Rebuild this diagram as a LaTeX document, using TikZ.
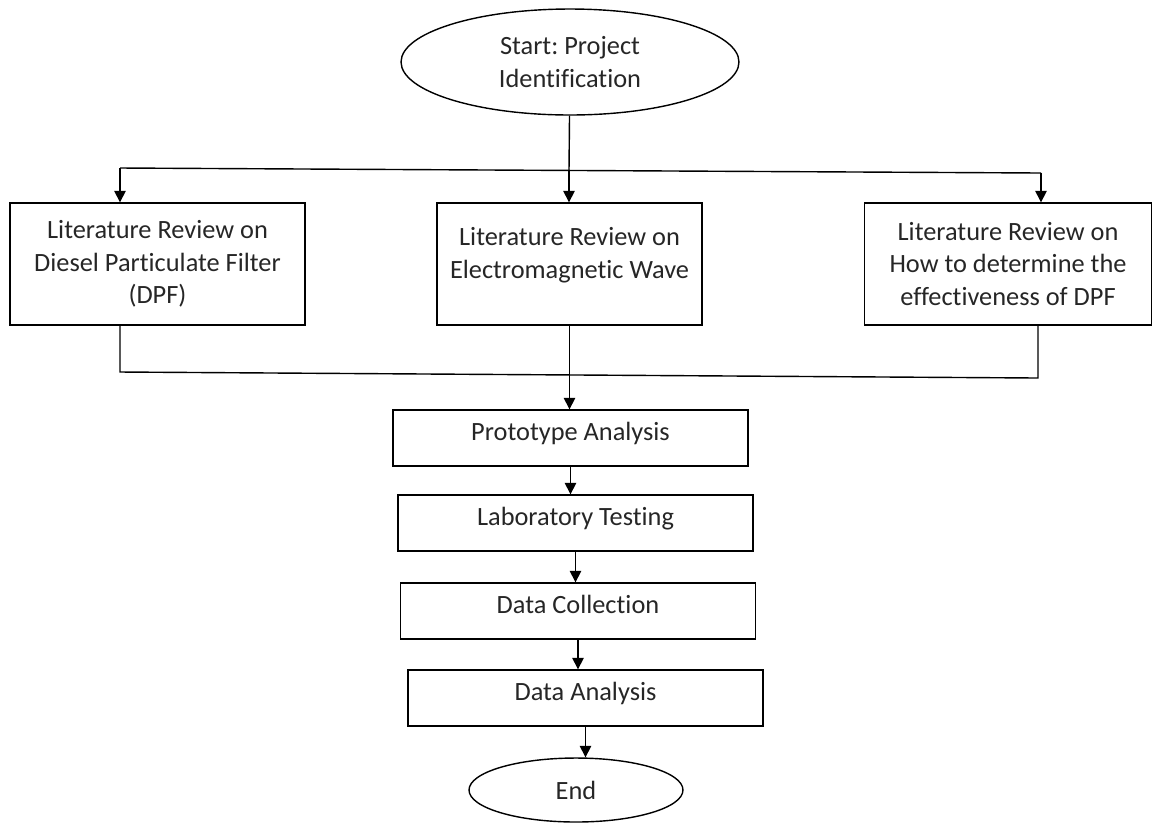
\documentclass[tikz,border=0pt]{standalone}
\usepackage{fontspec}
\setmainfont{Carlito}[Ligatures=NoCommon]
\usepackage{tikz}
\usetikzlibrary{arrows.meta,shapes.geometric}
\frenchspacing

\begin{document}
\begin{tikzpicture}[
    x=0.02cm, y=-0.02cm, font=\fontsize{15}{18.5}\selectfont, text=black!85,
    >={Triangle[length=2.3mm, width=2.3mm]}, line width=0.8pt,
    term/.style={draw, ellipse, align=center, inner sep=0pt},
    lit/.style={draw, rectangle, align=center, inner sep=2pt, minimum height=2.44cm},
    stage/.style={draw, rectangle, align=center, inner sep=2pt, text depth=0.25cm, minimum width=7.1cm, minimum height=1.12cm}]
    \useasboundingbox (0,0) rectangle (1155,823);
    \node[term, minimum width=6.76cm, minimum height=2.12cm] (start) at (570,62) {Start: Project\\Identification};
    \node[lit, minimum width=5.9cm]  (lit1) at (157.5,264) {Literature Review on\\Diesel Particulate Filter\\(DPF)};
    \node[lit, minimum width=5.3cm, text depth=0.45cm] (lit2) at (569.5,264) {Literature Review on\\Electromagnetic Wave};
    \node[lit, minimum width=5.74cm] (lit3) at (1008,264) {Literature Review on\\How to determine the\\effectiveness of DPF};
    \node[stage] (proto)    at (570.5,438) {Prototype Analysis};
    \node[stage] (lab)      at (575.5,523) {Laboratory Testing};
    \node[stage] (collect)  at (578,611)   {Data Collection};
    \node[stage] (analysis) at (585.5,698) {Data Analysis};
    \node[term, minimum width=4.28cm, minimum height=1.28cm] (end) at (576,790) {End};
    % split line under the start node
    \coordinate (tl) at (120,168);
    \coordinate (tj) at (569,170.5);
    \coordinate (tr) at (1041,173);
    \draw (start) -- (tj);
    \draw (tl) -- (tr);
    \draw[->] (tl) -- (tl |- lit1.north);
    \draw[->] (tj) -- (tj |- lit2.north);
    \draw[->] (tr) -- (tr |- lit3.north);
    % joining line under the reviews
    \coordinate (bl) at (120,372);
    \coordinate (br) at (1038,378);
    \draw (bl |- lit1.south) -- (bl) -- (br) -- (br |- lit3.south);
    \draw[->] (lit2.south) -- (lit2.south |- proto.north);
    \foreach \a/\b in {proto/lab, lab/collect, collect/analysis, analysis/end}
        \draw[->] (\a.south) -- (\a.south |- \b.north);
\end{tikzpicture}
\end{document}
